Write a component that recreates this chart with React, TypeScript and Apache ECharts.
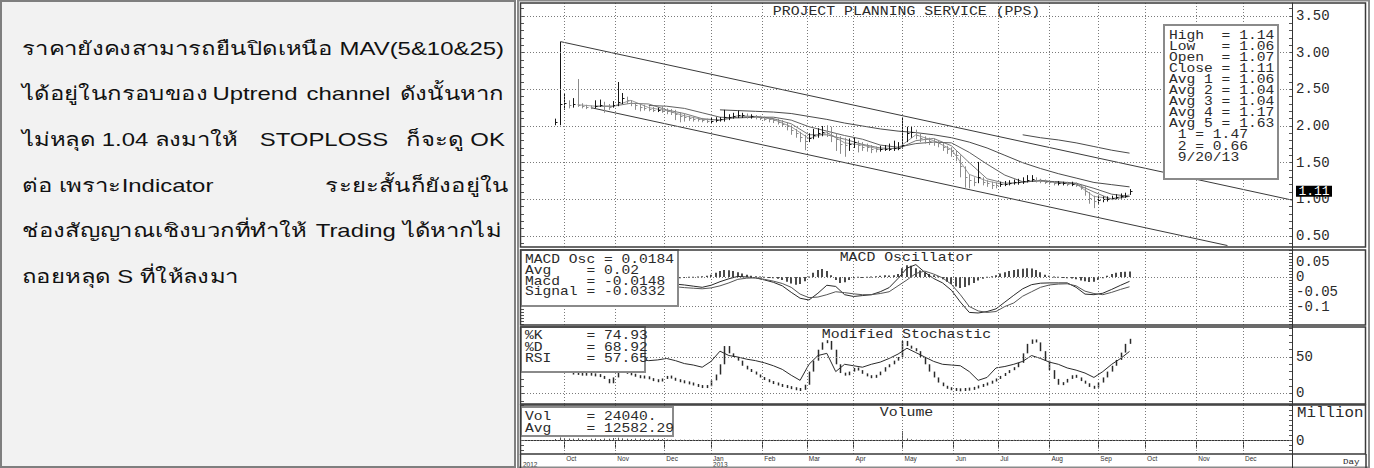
import React, { useEffect, useRef } from "react";
import * as echarts from "echarts";

const MONO = "'Liberation Mono', 'DejaVu Sans Mono', monospace";
const SANS = "'Liberation Sans', Arial, sans-serif";
const NOTE_FONT = "'Liberation Sans', 'Noto Sans', sans-serif";

// ---------- commentary (a double space marks a justified gap) ----------
const noteLines = [
  "ราคายังคงสามารถยืนปิดเหนือ MAV(5&10&25)",
  "ได้อยู่ในกรอบของ Uptrend channel ดังนั้นหาก",
  "ไม่หลุด 1.04 ลงมาให้  STOPLOSS  ก็จะดู OK",
  "ต่อ เพราะIndicator  ระยะสั้นก็ยังอยู่ใน",
  "ช่องสัญญาณเชิงบวกที่ทำให้ Trading ได้หากไม่",
  "ถอยหลุด S ที่ให้ลงมา",
];

// ---------- x axis: trading-day index counted from Mon 3 Sep 2012 ----------
const axisStart = 0.6;
const axisEnd = 347;
const monthStarts = [20, 43, 65, 86, 109, 129, 150, 172, 195, 215, 238, 260, 281, 304, 325];
const monthNames = ["Oct", "Nov", "Dec", "Jan", "Feb", "Mar", "Apr", "May", "Jun", "Jul", "Aug", "Sep", "Oct", "Nov", "Dec"];
const yearMarks = [0.6, 86];
const yearNames = ["2012", "2013"];

// ---------- price panel ----------
const chartTitle = "PROJECT PLANNING SERVICE (PPS)";
const barStart = 16;
const barStep = 2;
const closes = [
  2.05, 2.30, 2.32, 2.28, 2.30, 2.29, 2.27, 2.26, 2.25, 2.27,
  2.29, 2.27, 2.26, 2.28, 2.33, 2.38, 2.35, 2.31, 2.28, 2.26,
  2.25, 2.23, 2.22, 2.22, 2.21, 2.20, 2.19, 2.17, 2.14, 2.12,
  2.11, 2.10, 2.09, 2.08, 2.07, 2.07, 2.08, 2.09, 2.12, 2.12,
  2.14, 2.15, 2.15, 2.13, 2.13, 2.12, 2.11, 2.10, 2.09, 2.08,
  2.06, 2.03, 2.00, 1.95, 1.90, 1.85, 1.80, 1.84, 1.88, 1.90,
  1.92, 1.91, 1.88, 1.82, 1.76, 1.74, 1.76, 1.78, 1.74, 1.72,
  1.71, 1.69, 1.68, 1.68, 1.69, 1.69, 1.70, 1.70, 1.74, 1.90,
  1.92, 1.88, 1.84, 1.82, 1.80, 1.79, 1.77, 1.72, 1.68, 1.66,
  1.60, 1.45, 1.30, 1.26, 1.24, 1.30, 1.24, 1.22, 1.20, 1.19,
  1.21, 1.21, 1.22, 1.23, 1.23, 1.25, 1.27, 1.28, 1.26, 1.25,
  1.24, 1.23, 1.22, 1.22, 1.22, 1.21, 1.21, 1.20, 1.17, 1.12,
  1.02, 0.98, 0.99, 1.00, 1.01, 1.02, 1.03, 1.04, 1.05, 1.11,
];
const highs = [
  2.10, 3.15, 2.45, 2.35, 2.38, 2.64, 2.31, 2.29, 2.28, 2.35,
  2.36, 2.33, 2.30, 2.34, 2.60, 2.45, 2.40, 2.35, 2.32, 2.31,
  2.29, 2.27, 2.26, 2.25, 2.27, 2.24, 2.23, 2.22, 2.19, 2.17,
  2.14, 2.13, 2.12, 2.11, 2.10, 2.11, 2.12, 2.12, 2.22, 2.16,
  2.18, 2.21, 2.18, 2.17, 2.16, 2.15, 2.14, 2.13, 2.12, 2.11,
  2.10, 2.08, 2.05, 2.01, 1.96, 1.92, 1.88, 1.90, 1.96, 1.97,
  2.00, 2.01, 1.99, 1.90, 1.86, 1.84, 1.83, 1.84, 1.80, 1.78,
  1.76, 1.74, 1.72, 1.73, 1.74, 1.76, 1.80, 1.78, 2.12, 1.99,
  2.00, 1.95, 1.90, 1.86, 1.84, 1.83, 1.81, 1.77, 1.73, 1.71,
  1.67, 1.60, 1.45, 1.34, 1.30, 1.51, 1.30, 1.26, 1.24, 1.23,
  1.24, 1.25, 1.26, 1.27, 1.28, 1.30, 1.33, 1.33, 1.30, 1.28,
  1.27, 1.26, 1.25, 1.25, 1.24, 1.24, 1.24, 1.23, 1.21, 1.18,
  1.10, 1.05, 1.04, 1.04, 1.04, 1.05, 1.07, 1.08, 1.09, 1.14,
];
const lows = [
  2.01, 2.01, 2.22, 2.24, 2.25, 2.26, 2.24, 2.23, 2.23, 2.24,
  2.26, 2.18, 2.22, 2.25, 2.27, 2.30, 2.30, 2.27, 2.22, 2.20,
  2.21, 2.20, 2.19, 2.19, 2.18, 2.16, 2.15, 2.08, 2.05, 2.06,
  2.07, 2.06, 2.06, 2.05, 2.04, 2.04, 2.05, 2.06, 2.06, 2.08,
  2.10, 2.11, 2.11, 2.10, 2.10, 2.09, 2.08, 2.07, 2.05, 2.04,
  2.02, 1.99, 1.94, 1.88, 1.84, 1.78, 1.67, 1.78, 1.82, 1.84,
  1.86, 1.85, 1.78, 1.66, 1.62, 1.58, 1.66, 1.70, 1.64, 1.66,
  1.65, 1.63, 1.64, 1.65, 1.66, 1.66, 1.66, 1.67, 1.69, 1.78,
  1.84, 1.82, 1.78, 1.76, 1.74, 1.73, 1.71, 1.66, 1.62, 1.58,
  1.52, 1.30, 1.16, 1.15, 1.18, 1.22, 1.19, 1.17, 1.14, 1.15,
  1.17, 1.18, 1.19, 1.20, 1.20, 1.21, 1.23, 1.24, 1.23, 1.22,
  1.21, 1.20, 1.19, 1.19, 1.19, 1.18, 1.18, 1.17, 1.13, 1.05,
  0.94, 0.88, 0.94, 0.96, 0.97, 0.99, 1.00, 1.01, 1.02, 1.06,
];
const lastOpen = 1.07;
const lastDate = "9/20/13";

const avgStep = 8;
const avg1Start = 26;
const avg1 = [2.29, 2.27, 2.27, 2.35, 2.25, 2.21, 2.14, 2.09, 2.08, 2.14, 2.13, 2.09, 1.99, 1.83, 1.91, 1.77,
  1.74, 1.68, 1.70, 1.88, 1.80, 1.68, 1.34, 1.25, 1.20, 1.24, 1.26, 1.22, 1.21, 1.04, 1.01, 1.06];
const avg2Start = 34;
const avg2 = [2.27, 2.27, 2.31, 2.30, 2.22, 2.17, 2.10, 2.08, 2.12, 2.13, 2.10, 2.03, 1.88, 1.88, 1.82, 1.75,
  1.70, 1.69, 1.80, 1.83, 1.73, 1.50, 1.28, 1.22, 1.23, 1.26, 1.23, 1.21, 1.10, 1.00, 1.04];
const avg3Start = 58;
const avg3 = [2.28, 2.27, 2.24, 2.18, 2.12, 2.11, 2.12, 2.12, 2.08, 1.99, 1.93, 1.87, 1.82, 1.74, 1.71, 1.76,
  1.78, 1.77, 1.64, 1.48, 1.33, 1.24, 1.25, 1.24, 1.22, 1.15, 1.07, 1.04];
const avg4Start = 90;
const avg4 = [2.22, 2.21, 2.20, 2.19, 2.17, 2.13, 2.09, 2.04, 2.00, 1.96, 1.93, 1.91, 1.88, 1.84, 1.78, 1.70,
  1.60, 1.50, 1.42, 1.35, 1.29, 1.23, 1.20, 1.17];
const avg5Start = 226;
const avg5 = [1.88, 1.84, 1.81, 1.77, 1.72, 1.67, 1.63];

const upperChannel = [[18.4, 3.15], [347, 0.99]];
const lowerChannel = [[32, 2.25], [318, 0.37]];
const channelLast = [1.47, 0.66];

const priceLabels = [0.5, 1, 1.5, 2, 2.5, 3, 3.5];

// ---------- MACD panel ----------
const oscStart = 40;
const oscStep = 2;
const macdOsc = [
  0.004, 0.005, 0.008, 0.010, 0.008, 0.004, 0.000, -0.004, -0.006, -0.006, -0.005, -0.004, -0.004, -0.003, -0.004, -0.005,
  -0.004, -0.003, -0.002, -0.001, 0.000, 0.002, 0.004, 0.008, 0.014,
  0.020, 0.024, 0.023, 0.020, 0.016, 0.012, 0.008, 0.004,
  0.002, 0.000, -0.002, -0.003, -0.004, -0.006, -0.010, -0.016, -0.022,
  -0.026, -0.024, -0.014, 0.000,
  0.014, 0.024, 0.027, 0.020, 0.006,
  -0.010, -0.020, -0.018, -0.010, -0.004,
  -0.002, -0.003, -0.002, 0.000, 0.002, 0.004, 0.006, 0.005, 0.006, 0.010,
  0.030, 0.040, 0.038, 0.030, 0.022, 0.016, 0.010, 0.006, 0.002,
  -0.008, -0.016, -0.024, -0.032, -0.037, -0.034, -0.028, -0.020, -0.012,
  -0.006, -0.002, 0.002, 0.006,
  0.012, 0.016, 0.020, 0.024, 0.026, 0.028, 0.030, 0.029, 0.024, 0.016,
  0.008, 0.004, 0.000, -0.002, -0.003, -0.004, -0.005, -0.008, -0.012,
  -0.014, -0.017, -0.016, -0.010, -0.004, 0.004,
  0.010, 0.014, 0.017, 0.018, 0.0184,
];
const lineStart = 42;
const lineStep = 4;
const macdLine = [
  -0.010, -0.014, -0.018, -0.020, -0.022, -0.023, -0.024, -0.024, -0.027, -0.031,
  -0.035, -0.028, -0.016, -0.006, 0.002, 0.000, -0.003, -0.010, -0.018, -0.030,
  -0.052, -0.072, -0.078, -0.055, -0.028, -0.032, -0.060, -0.066, -0.063, -0.060,
  -0.050, -0.036, -0.005, 0.030, 0.042, 0.016, -0.005, -0.020, -0.045, -0.085,
  -0.120, -0.122, -0.117, -0.108, -0.085, -0.062, -0.040, -0.026, -0.021, -0.020,
  -0.020, -0.020, -0.035, -0.058, -0.060, -0.055, -0.042, -0.028, -0.0148,
];
const signalLine = [
  -0.008, -0.010, -0.013, -0.016, -0.019, -0.022, -0.024, -0.033, -0.036, -0.038,
  -0.040, -0.037, -0.030, -0.020, -0.008, -0.004, -0.003, -0.008, -0.014, -0.022,
  -0.035, -0.058, -0.070, -0.068, -0.060, -0.050, -0.053, -0.057, -0.060, -0.060,
  -0.056, -0.050, -0.030, -0.010, 0.012, 0.020, 0.010, -0.003, -0.025, -0.060,
  -0.100, -0.115, -0.120, -0.117, -0.100, -0.088, -0.065, -0.050, -0.035, -0.027,
  -0.024, -0.023, -0.030, -0.048, -0.056, -0.060, -0.052, -0.042, -0.0332,
];
const oscAvg = 0.02;
const macdLabels = [0.05, 0, -0.05, -0.1];
const macdGrid = [0, -0.1];

// ---------- stochastic panel ----------
const kStart = 24;
const kStep = 2;
const stochK = [
  28, 27, 26, 27, 26, 25, 24, 20, 14, 22,
  32, 30, 28, 26, 24, 22, 23, 20, 18, 17,
  20, 24, 21, 18, 17, 15, 14, 12, 10, 9,
  10, 18, 26, 40, 65, 55, 50, 45, 38, 33,
  30, 26, 22, 19, 16, 14, 12, 10, 9, 7,
  6, 5, 12, 30, 45, 60, 70, 72, 60, 40,
  28, 25, 30, 35, 32, 27, 24, 22, 25, 30,
  36, 40, 45, 50, 72, 65, 62, 58, 50, 40,
  30, 22, 15, 10, 7, 6, 5, 5, 6, 6,
  8, 10, 12, 14, 17, 20, 24, 28, 32, 36,
  42, 55, 68, 74, 70, 58, 45, 32, 20, 12,
  15, 20, 25, 22, 17, 14, 9, 8, 15, 22,
  30, 38, 46, 56, 68, 74.93,
];
const rsi = [
  46, 46, 47, 47, 45, 46, 48, 45, 41, 39,
  36, 44, 58, 52, 50, 47, 45, 42, 38, 33,
  25, 18, 40, 52, 55, 30, 40, 38, 36, 40,
  43, 48, 54, 62, 56, 50, 44, 40, 39, 38,
  30, 18, 22, 35, 37, 40, 44, 52, 48, 43,
  40, 35, 32, 28, 22, 30, 40, 48, 57.65,
];
const stochDLast = 68.92;
const stochLabels = [50, 0];

// ---------- volume panel (millions of shares) ----------
const volStart = 16;
const volStep = 2;
const volume = [
  0.15, 0.30, 0.25, 0.20, 0.18, 0.22, 0.15, 0.12, 0.18, 0.20,
  0.15, 0.20, 0.18, 0.25, 0.28, 0.22, 0.18, 0.15, 0.20, 0.18,
  0.15, 0.12, 0.18, 0.16, 0.14, 0.10, 0.08, 0.09, 0.07, 0.06,
  0.05, 0.06, 0.05, 0.04, 0.03, 0.08, 0.06, 0.05, 0.10, 0.06,
  0.05, 0.06, 0.05, 0.04, 0.04, 0.03, 0.03, 0.04, 0.03, 0.03,
  0.04, 0.05, 0.06, 0.05, 0.06, 0.05, 0.08, 0.05, 0.04, 0.05,
  0.06, 0.04, 0.05, 0.06, 0.05, 0.04, 0.03, 0.04, 0.03, 0.03,
  0.02, 0.03, 0.02, 0.03, 0.03, 0.04, 0.05, 0.06, 0.95, 0.20,
  0.12, 0.08, 0.06, 0.05, 0.04, 0.05, 0.04, 0.05, 0.06, 0.05,
  0.08, 0.10, 0.12, 0.08, 0.05, 0.06, 0.04, 0.03, 0.03, 0.02,
  0.03, 0.02, 0.03, 0.04, 0.03, 0.04, 0.05, 0.04, 0.03, 0.02,
  0.02, 0.02, 0.03, 0.02, 0.02, 0.02, 0.02, 0.03, 0.03, 0.04,
  0.05, 0.04, 0.03, 0.02, 0.02, 0.02, 0.03, 0.02, 0.02, 0.02404,
];
const volAvg = "12582.29";
const volLabels = [0];

// ---------- layout ----------
const PLOT_L = 521;
const PLOT_W = 771;
const AXIS_X = PLOT_L + PLOT_W;
const FRAME_R = 1366;
const panels = [
  { top: 3, bottom: 247, min: 0.35, max: 3.677, minor: 0.1 },
  { top: 250, bottom: 325, min: -0.1627, max: 0.0915, minor: 0.01 },
  { top: 327, bottom: 404, min: -14.4, max: 91.1, minor: 10 },
  { top: 405, bottom: 454, min: -1.35, max: 3.55, minor: 0.5 },
];

const last = <T,>(a: T[]) => a[a.length - 1];
const seq = (start: number, step: number, vals: number[]) => vals.map((v, j) => [start + step * j, v]);

function ticksFor(lo: number, hi: number, step: number) {
  const out: number[] = [];
  const n0 = Math.ceil(lo / step - 1e-9);
  const n1 = Math.floor(hi / step + 1e-9);
  for (let n = n0; n <= n1; n++) out.push(+(n * step).toFixed(4));
  return out;
}

function monoText(x: number, y: number, text: string, size: number, sx: number, extra: any = {}) {
  return {
    type: "text",
    x,
    y,
    scaleX: sx,
    z: 120,
    style: {
      text,
      fontFamily: MONO,
      fontSize: size,
      fill: "#2a2a2a",
      textAlign: extra.align || "left",
      textVerticalAlign: "middle",
    },
  };
}

function legendBox(x: number, y: number, w: number, h: number, lines: string[], tx: number, ty: number, lh: number) {
  return {
    type: "group",
    z: 110,
    children: [
      { type: "rect", z: 110, shape: { x, y, width: w, height: h }, style: { fill: "#fff", stroke: "#8a8a8a", lineWidth: 2 } },
      ...lines.map((t, k) => monoText(tx, ty + k * lh, t, 12.5, 1.17)),
    ],
  };
}

function noteElements() {
  const ctx = document.createElement("canvas").getContext("2d")!;
  const left = 22;
  const width = 482;
  const fs = 19;
  ctx.font = `${fs}px ${NOTE_FONT}`;
  const w0 = ctx.measureText(noteLines[0]).width || width;
  const sx = Math.max(0.85, Math.min(1.35, width / w0));
  const spaceW = ctx.measureText(" ").width * sx;
  const els: any[] = [];
  noteLines.forEach((line, li) => {
    const y = 48 + li * 45.7;
    let words = line.split(/\s{2,}/);
    if (words.length < 2) words = line.split(/\s+/);
    const base = { fontFamily: NOTE_FONT, fontSize: fs, fill: "#111", textVerticalAlign: "middle" };
    if (li === noteLines.length - 1 || words.length < 2) {
      els.push({ type: "text", z: 5, x: left, y, scaleX: sx, style: { ...base, text: line } });
      return;
    }
    const ws = words.map((w) => ctx.measureText(w).width * sx);
    const total = ws.reduce((a, b) => a + b, 0);
    let gap = (width - total) / (words.length - 1);
    if (gap < spaceW) gap = spaceW;
    let x = left;
    words.forEach((w, k) => {
      els.push({ type: "text", z: 5, x, y, scaleX: sx, style: { ...base, text: w } });
      x += ws[k] + gap;
    });
  });
  return els;
}

const gridLineStyle = { color: "#7a7a7a", width: 1, type: [1, 2] };

function gridMarks(yVals: number[]) {
  return {
    silent: true,
    symbol: ["none", "none"],
    label: { show: false },
    emphasis: { disabled: true },
    lineStyle: gridLineStyle,
    animation: false,
    data: [...monthStarts.map((v) => ({ xAxis: v })), ...yVals.map((v) => ({ yAxis: v }))],
  };
}

function vLineRender(color: string, minLen: number, lw: number) {
  return (params: any, api: any) => {
    const x = api.value(0);
    const a = api.coord([x, api.value(1)]);
    const b = api.coord([x, api.value(2)]);
    const px = Math.round(a[0]) + (lw % 2 ? 0.5 : 0);
    let y1 = a[1];
    let y2 = b[1];
    if (Math.abs(y2 - y1) < minLen) {
      const m = (y1 + y2) / 2;
      y1 = m - minLen / 2;
      y2 = m + minLen / 2;
    }
    return { type: "line", shape: { x1: px, y1, x2: px, y2 }, style: { stroke: color, lineWidth: lw } };
  };
}

function buildOption() {
  const grid = panels.map((p) => ({ left: PLOT_L, top: p.top, width: PLOT_W, height: p.bottom - p.top, outerBoundsMode: "none", containLabel: false }));

  const xAxis = panels.map((p, g) => {
    const bottom = g === panels.length - 1;
    return {
      type: "value",
      gridIndex: g,
      min: axisStart,
      max: axisEnd,
      splitLine: { show: false },
      axisLine: { show: bottom, lineStyle: { color: "#333", width: 1 } },
      axisTick: bottom
        ? { show: true, customValues: monthStarts, length: 8, inside: false, lineStyle: { color: "#333" } }
        : { show: false },
      axisLabel: bottom
        ? {
            show: true,
            customValues: [...yearMarks, ...monthStarts.filter((m) => !yearMarks.includes(m))],
            formatter: (v: number) => {
              const mi = monthStarts.indexOf(v);
              const yi = yearMarks.indexOf(v);
              const mName = mi >= 0 ? monthNames[mi] : "";
              return yi >= 0 ? `${mName}\n${yearNames[yi]}` : mName;
            },
            align: "left",
            verticalAlign: "top",
            margin: 1,
            padding: [0, 0, 0, 2],
            fontFamily: SANS,
            fontSize: 6.5,
            lineHeight: 6,
            color: "#333",
          }
        : { show: false },
    };
  });

  const labelSets = [priceLabels, macdLabels, stochLabels, volLabels];
  const fmt = [(v: number) => v.toFixed(2), (v: number) => String(v), (v: number) => String(v), (v: number) => String(v)];
  const yAxis: any[] = [];
  panels.forEach((p, g) => {
    const minor = ticksFor(p.min, p.max, p.minor);
    yAxis.push({
      type: "value",
      gridIndex: g,
      position: "right",
      min: p.min,
      max: p.max,
      splitLine: { show: false },
      axisLine: { show: true, lineStyle: { color: "#333", width: 1 } },
      axisTick: { show: true, inside: true, length: 3, customValues: minor, lineStyle: { color: "#555" } },
      axisLabel: {
        show: true,
        customValues: labelSets[g],
        formatter: fmt[g],
        fontFamily: MONO,
        fontSize: 14,
        color: "#2a2a2a",
        margin: 4,
      },
    });
    yAxis.push({
      type: "value",
      gridIndex: g,
      position: "left",
      min: p.min,
      max: p.max,
      splitLine: { show: false },
      axisLine: { show: false },
      axisTick: { show: true, inside: true, length: 3, customValues: minor, lineStyle: { color: "#555" } },
      axisLabel: { show: false },
    });
  });

  const ohlc = closes.map((c, j) => [barStart + barStep * j, highs[j], lows[j], c, j === 0 || c >= closes[j - 1] ? 1 : 0]);

  const lineSeries = (name: string, data: number[][], g: number, color: string, width = 1, extra: any = {}) => ({
    name,
    type: "line",
    xAxisIndex: g,
    yAxisIndex: g * 2,
    data,
    showSymbol: false,
    symbol: "none",
    silent: true,
    lineStyle: { color, width },
    z: 3,
    ...extra,
  });

  const series: any[] = [
    {
      name: "Price",
      type: "custom",
      xAxisIndex: 0,
      yAxisIndex: 0,
      data: ohlc,
      z: 4,
      silent: true,
      renderItem: (params: any, api: any) => {
        const x = api.value(0);
        const hi = api.coord([x, api.value(1)]);
        const lo = api.coord([x, api.value(2)]);
        const cl = api.coord([x, api.value(3)]);
        const color = api.value(4) ? "#151515" : "#8c8c8c";
        const px = Math.round(hi[0]) + 0.5;
        return {
          type: "group",
          children: [
            { type: "line", shape: { x1: px, y1: hi[1], x2: px, y2: Math.max(lo[1], hi[1] + 2) }, style: { stroke: color, lineWidth: 1 } },
            { type: "line", shape: { x1: px, y1: Math.round(cl[1]) + 0.5, x2: px + 2, y2: Math.round(cl[1]) + 0.5 }, style: { stroke: color, lineWidth: 1 } },
          ],
        };
      },
      markPoint: {
        silent: true,
        symbol: "rect",
        symbolSize: [36, 11],
        symbolOffset: [22, 0],
        itemStyle: { color: "#000" },
        label: { show: true, position: "inside", color: "#fff", fontFamily: MONO, fontSize: 13, formatter: () => last(closes).toFixed(2) },
        data: [{ coord: [axisEnd, last(closes)] }],
        z: 20,
      },
    },
    lineSeries("Avg 1", seq(avg1Start, avgStep, avg1), 0, "#9a9a9a"),
    lineSeries("Avg 2", seq(avg2Start, avgStep, avg2), 0, "#7a7a7a"),
    lineSeries("Avg 3", seq(avg3Start, avgStep, avg3), 0, "#606060"),
    lineSeries("Avg 4", seq(avg4Start, avgStep, avg4), 0, "#4a4a4a"),
    lineSeries("Avg 5", seq(avg5Start, avgStep, avg5), 0, "#4a4a4a"),
    lineSeries("Channel 1", upperChannel, 0, "#3a3a3a", 1, { markLine: gridMarks(priceLabels) }),
    lineSeries("Channel 2", lowerChannel, 0, "#3a3a3a"),
    {
      name: "MACD Osc",
      type: "custom",
      xAxisIndex: 1,
      yAxisIndex: 2,
      data: macdOsc.map((v, j) => [oscStart + oscStep * j, 0, v]),
      silent: true,
      z: 3,
      renderItem: vLineRender("#4a4a4a", 1, 2),
    },
    lineSeries("Macd", seq(lineStart, lineStep, macdLine), 1, "#2a2a2a", 1, { markLine: gridMarks(macdGrid) }),
    lineSeries("Signal", seq(lineStart, lineStep, signalLine), 1, "#555"),
    {
      name: "%K",
      type: "custom",
      xAxisIndex: 2,
      yAxisIndex: 4,
      data: stochK.map((v, j) => [kStart + kStep * j, j === 0 ? v : stochK[j - 1], v]),
      silent: true,
      z: 3,
      renderItem: vLineRender("#2a2a2a", 3, 1.5),
    },
    lineSeries("RSI", seq(lineStart, lineStep, rsi), 2, "#2a2a2a", 1, { markLine: gridMarks(stochLabels) }),
    {
      name: "Vol",
      type: "custom",
      xAxisIndex: 3,
      yAxisIndex: 6,
      data: volume.map((v, j) => [volStart + volStep * j, 0, v]),
      silent: true,
      z: 3,
      renderItem: vLineRender("#555", 1, 1),
      markLine: gridMarks(volLabels),
    },
  ];

  const priceLegend = [
    `High  = ${last(highs).toFixed(2)}`,
    `Low   = ${last(lows).toFixed(2)}`,
    `Open  = ${lastOpen.toFixed(2)}`,
    `Close = ${last(closes).toFixed(2)}`,
    `Avg 1 = ${last(avg1).toFixed(2)}`,
    `Avg 2 = ${last(avg2).toFixed(2)}`,
    `Avg 3 = ${last(avg3).toFixed(2)}`,
    `Avg 4 = ${last(avg4).toFixed(2)}`,
    `Avg 5 = ${last(avg5).toFixed(2)}`,
    ` 1 = ${channelLast[0].toFixed(2)}`,
    ` 2 = ${channelLast[1].toFixed(2)}`,
    ` ${lastDate}`,
  ];
  const macdLegend = [
    `MACD Osc = ${last(macdOsc)}`,
    `Avg    = ${oscAvg}`,
    `Macd   = ${last(macdLine)}`,
    `Signal = ${last(signalLine)}`,
  ];
  const stochLegend = [
    `%K     = ${last(stochK).toFixed(2)}`,
    `%D     = ${stochDLast.toFixed(2)}`,
    `RSI    = ${last(rsi).toFixed(2)}`,
  ];
  const volLegend = [`Vol    = ${Math.round(last(volume) * 1e6)}.`, `Avg    = ${volAvg}`];

  const midX = PLOT_L + PLOT_W / 2;
  const frame: any[] = [
    { type: "rect", z: 1, shape: { x: 1, y: 1, width: 514, height: 466 }, style: { fill: "#f2f2f2", stroke: "#7f7f7f", lineWidth: 2 } },
    ...noteElements(),
    { type: "rect", z: 130, shape: { x: 518, y: 0.5, width: 851, height: 467 }, style: { fill: "none", stroke: "#8a8a8a", lineWidth: 2 } },
    ...panels.map((p) => ({
      type: "rect",
      z: 130,
      shape: { x: PLOT_L - 0.5, y: p.top, width: FRAME_R - PLOT_L, height: p.bottom - p.top },
      style: { fill: "none", stroke: "#3a3a3a", lineWidth: 1.5 },
    })),
    { type: "line", z: 130, shape: { x1: PLOT_L - 0.5, y1: 454, x2: PLOT_L - 0.5, y2: 468 }, style: { stroke: "#3a3a3a", lineWidth: 1.5 } },
    { type: "line", z: 130, shape: { x1: FRAME_R, y1: 454, x2: FRAME_R, y2: 468 }, style: { stroke: "#3a3a3a", lineWidth: 1.5 } },
    { type: "line", z: 130, shape: { x1: AXIS_X + 0.5, y1: 3, x2: AXIS_X + 0.5, y2: 468 }, style: { stroke: "#333", lineWidth: 1 } },
    monoText(midX, 11.5, chartTitle, 12.5, 1.19, { align: "center" }),
    monoText(midX, 257.5, "MACD Oscillator", 12.5, 1.19, { align: "center" }),
    monoText(midX, 334.5, "Modified Stochastic", 12.5, 1.19, { align: "center" }),
    monoText(midX, 412.5, "Volume", 12.5, 1.19, { align: "center" }),
    monoText(1297, 413, "Million", 14, 1.13),
    monoText(1343, 462, "Day", 8, 1.15),
    legendBox(1164, 25, 114, 154, priceLegend, 1169, 35.5, 11.08),
    legendBox(521, 250, 157, 56, macdLegend, 525, 260, 10.7),
    legendBox(521, 327, 124, 45, stochLegend, 525, 336, 11.5),
    legendBox(521, 407, 152, 29, volLegend, 525, 416.5, 12),
  ];

  return {
    animation: false,
    backgroundColor: "#ffffff",
    grid,
    xAxis,
    yAxis,
    series,
    graphic: { elements: frame },
  };
}

export default function App() {
  const ref = useRef<HTMLDivElement>(null);
  useEffect(() => {
    if (!ref.current) return;
    const chart = echarts.init(ref.current, undefined, { renderer: "svg" });
    chart.setOption(buildOption() as any);
    return () => chart.dispose();
  }, []);
  return <div ref={ref} style={{ position: "fixed", left: 0, top: 0, width: 1374, height: 468, background: "#fff" }} />;
}
